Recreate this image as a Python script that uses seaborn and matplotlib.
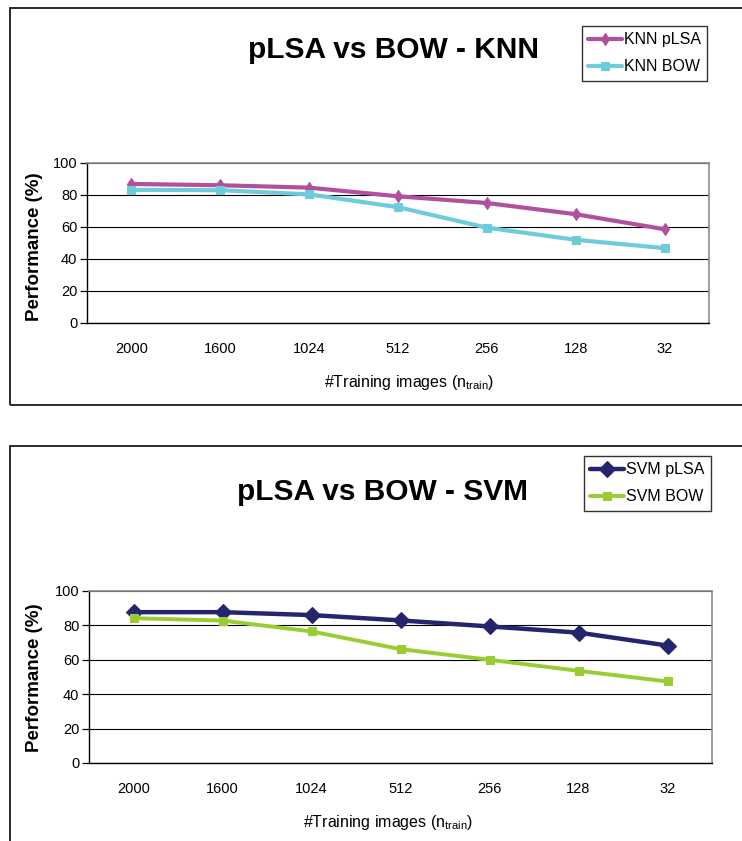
import matplotlib
matplotlib.use("Agg")
import matplotlib.pyplot as plt
import matplotlib.ticker as mticker
from matplotlib.patches import Rectangle
import pandas as pd
import seaborn as sns

# Training set sizes (categorical x axis)
n_train = ["2000", "1600", "1024", "512", "256", "128", "32"]

# KNN classifier performance (%)
knn_plsa = [86.9, 86.1, 84.6, 79.2, 75.0, 68.0, 58.6]
knn_bow = [83.2, 83.0, 80.4, 72.4, 59.6, 52.0, 46.8]

# SVM classifier performance (%)
svm_plsa = [87.7, 87.7, 86.0, 82.9, 79.4, 75.8, 68.3]
svm_bow = [84.2, 82.8, 76.5, 66.2, 60.0, 53.6, 47.4]

y_ticks = [0, 20, 40, 60, 80, 100]

sns.set_style("white")
plt.rcParams["font.family"] = ["Liberation Sans", "DejaVu Sans"]
plt.rcParams["mathtext.fontset"] = "custom"
plt.rcParams["mathtext.rm"] = "Liberation Sans"
plt.rcParams["mathtext.it"] = "Liberation Sans:italic"
for key in ("text.color", "axes.labelcolor", "xtick.color", "ytick.color"):
    plt.rcParams[key] = "black"

W, H = 742, 841
fig = plt.figure(figsize=(W / 100, H / 100), dpi=100)


def fx(px):
    return px / W


def fy(py):
    return 1 - py / H


def panel(rect_px, series, title, title_xy, legend_xy, xlabel_xy, ylabel_xy):
    left, top, right, bottom = rect_px
    ax = fig.add_axes([fx(left), fy(bottom), fx(right - left), (bottom - top) / H])
    for name, vals, color, marker, ms, lw in series:
        df = pd.DataFrame({"n": n_train, "perf": vals})
        sns.lineplot(data=df, x="n", y="perf", ax=ax, color=color, marker=marker,
                     markersize=ms, markeredgecolor=color, markeredgewidth=0.8,
                     linewidth=lw, label=name, sort=False)
    ax.set_xlim(-0.5, len(n_train) - 0.5)
    ax.set_ylim(0, 100)
    ax.set_yticks(y_ticks)
    ax.yaxis.grid(True, color="black", linewidth=0.8)
    ax.set_axisbelow(True)
    ax.xaxis.set_minor_locator(mticker.FixedLocator([i - 0.5 for i in range(len(n_train) + 1)]))
    ax.tick_params(axis="x", which="major", length=0, labelsize=10.5, pad=14)
    ax.tick_params(axis="x", which="minor", length=5, width=0.9, color="black", direction="out")
    ax.tick_params(axis="y", which="major", length=5, width=0.9, color="black",
                   direction="out", left=True, labelsize=10.5, pad=2)
    ax.set_xlabel("")
    ax.set_ylabel("")
    for side in ("left", "bottom"):
        ax.spines[side].set_color("black")
        ax.spines[side].set_linewidth(1.0)
    for side in ("top", "right"):
        ax.spines[side].set_color("#8c8c8c")
        ax.spines[side].set_linewidth(1.2)

    fig.text(fx(title_xy[0]), fy(title_xy[1]), title, ha="center", va="center",
             fontsize=21.5, fontweight="bold")
    fig.text(fx(xlabel_xy[0]), fy(xlabel_xy[1]),
             r"#Training images ($\mathrm{n}_{\mathrm{train}}$)",
             ha="center", va="center", fontsize=11.5)
    fig.text(fx(ylabel_xy[0]), fy(ylabel_xy[1]), "Performance (%)", rotation=90,
             ha="center", va="center", fontsize=13.5, fontweight="bold")

    leg = ax.legend(loc="upper left", bbox_to_anchor=(fx(legend_xy[0]), fy(legend_xy[1])),
                    bbox_transform=fig.transFigure, borderaxespad=0, fancybox=False,
                    frameon=True, fontsize=11.5, handlelength=2.1, handletextpad=0.12,
                    labelspacing=0.75, borderpad=0.4)
    leg.get_frame().set_edgecolor("black")
    leg.get_frame().set_linewidth(1.0)
    return ax


# Outer chart frames
fig.add_artist(Rectangle((fx(10), fy(405)), fx(760 - 10), (405 - 8) / H, transform=fig.transFigure,
                         fill=False, edgecolor="#1a1a1a", linewidth=1.3))
fig.add_artist(Rectangle((fx(10), fy(860)), fx(760 - 10), (860 - 446) / H, transform=fig.transFigure,
                         fill=False, edgecolor="#1a1a1a", linewidth=1.3))

panel((87, 163, 709, 323),
      [("KNN pLSA", knn_plsa, "#B0509F", "d", 6, 3.0),
       ("KNN BOW", knn_bow, "#6ECCDA", "s", 5.5, 3.0)],
      "pLSA vs BOW - KNN", (393, 50), (582, 26), (409, 382), (35, 247))

panel((89, 591, 712, 763),
      [("SVM pLSA", svm_plsa, "#25256E", "D", 8.5, 3.2),
       ("SVM BOW", svm_bow, "#99CC33", "s", 5.5, 2.8)],
      "pLSA vs BOW - SVM", (383, 492), (584, 456), (388, 822), (35, 678))

fig.savefig("out.png", dpi=100)
